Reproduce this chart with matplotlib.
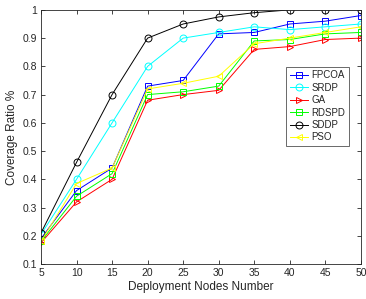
import numpy as np
from matplotlib import pyplot as plt

plt.rcParams['font.family'] = ['Liberation Sans', 'DejaVu Sans']

nodes = [5, 10, 15, 20, 25, 30, 35, 40, 45, 50]
fpcoa = [0.19, 0.36, 0.44, 0.73, 0.75, 0.915, 0.92, 0.95, 0.96, 0.98]
srdp = [0.205, 0.40, 0.60, 0.80, 0.90, 0.92, 0.94, 0.93, 0.94, 0.95]
ga = [0.175, 0.32, 0.40, 0.68, 0.70, 0.715, 0.86, 0.87, 0.895, 0.90]
rdspd = [0.18, 0.34, 0.42, 0.70, 0.71, 0.73, 0.89, 0.895, 0.915, 0.92]
sddp = [0.21, 0.46, 0.70, 0.90, 0.95, 0.975, 0.99, 1.0, 1.0, 1.0]
pso = [0.18, 0.385, 0.44, 0.72, 0.74, 0.765, 0.88, 0.90, 0.92, 0.94]

# matlab-style pure colours
series = [
    ('FPCOA', fpcoa, (0, 0, 1), 's'),
    ('SRDP', srdp, (0, 1, 1), 'o'),
    ('GA', ga, (1, 0, 0), '>'),
    ('RDSPD', rdspd, (0, 1, 0), 's'),
    ('SDDP', sddp, (0, 0, 0), 'o'),
    ('PSO', pso, (1, 1, 0), '<'),
]

fig = plt.figure(figsize=(3.66, 2.99), dpi=100)
ax = fig.add_axes([0.112, 0.117, 0.874, 0.85])
for name, vals, col, mk in series:
    ax.plot(nodes, vals, color=col, marker=mk, markersize=5, markerfacecolor='none',
            markeredgewidth=0.7, linewidth=0.7, label=name)

ax.set_xlim(5, 50)
ax.set_ylim(0.1, 1.0)
ax.set_xticks(nodes)
ax.set_yticks(np.arange(0.1, 1.01, 0.1))
ax.set_yticklabels(['0.1', '0.2', '0.3', '0.4', '0.5', '0.6', '0.7', '0.8', '0.9', '1'])
ax.tick_params(direction='in', top=True, right=True, labelsize=7.5, colors='#262626',
               length=3, width=0.6, pad=3)
for s in ax.spines.values():
    s.set_color('#262626')
    s.set_linewidth(0.6)
ax.set_xlabel('Deployment Nodes Number', fontsize=8.5, color='#262626', labelpad=2)
ax.set_ylabel('Coverage Ratio %', fontsize=8.5, color='#262626', labelpad=3)
leg = ax.legend(loc='lower right', bbox_to_anchor=(0.9625, 0.465), borderaxespad=0,
                fontsize=7, frameon=True, fancybox=False, handlelength=1.9,
                borderpad=0.35, labelspacing=0.25, handletextpad=0.35)
leg.get_frame().set_edgecolor('#262626')
leg.get_frame().set_linewidth(0.6)
for t in leg.get_texts():
    t.set_color('#262626')

plt.savefig('out.png', dpi=100)
